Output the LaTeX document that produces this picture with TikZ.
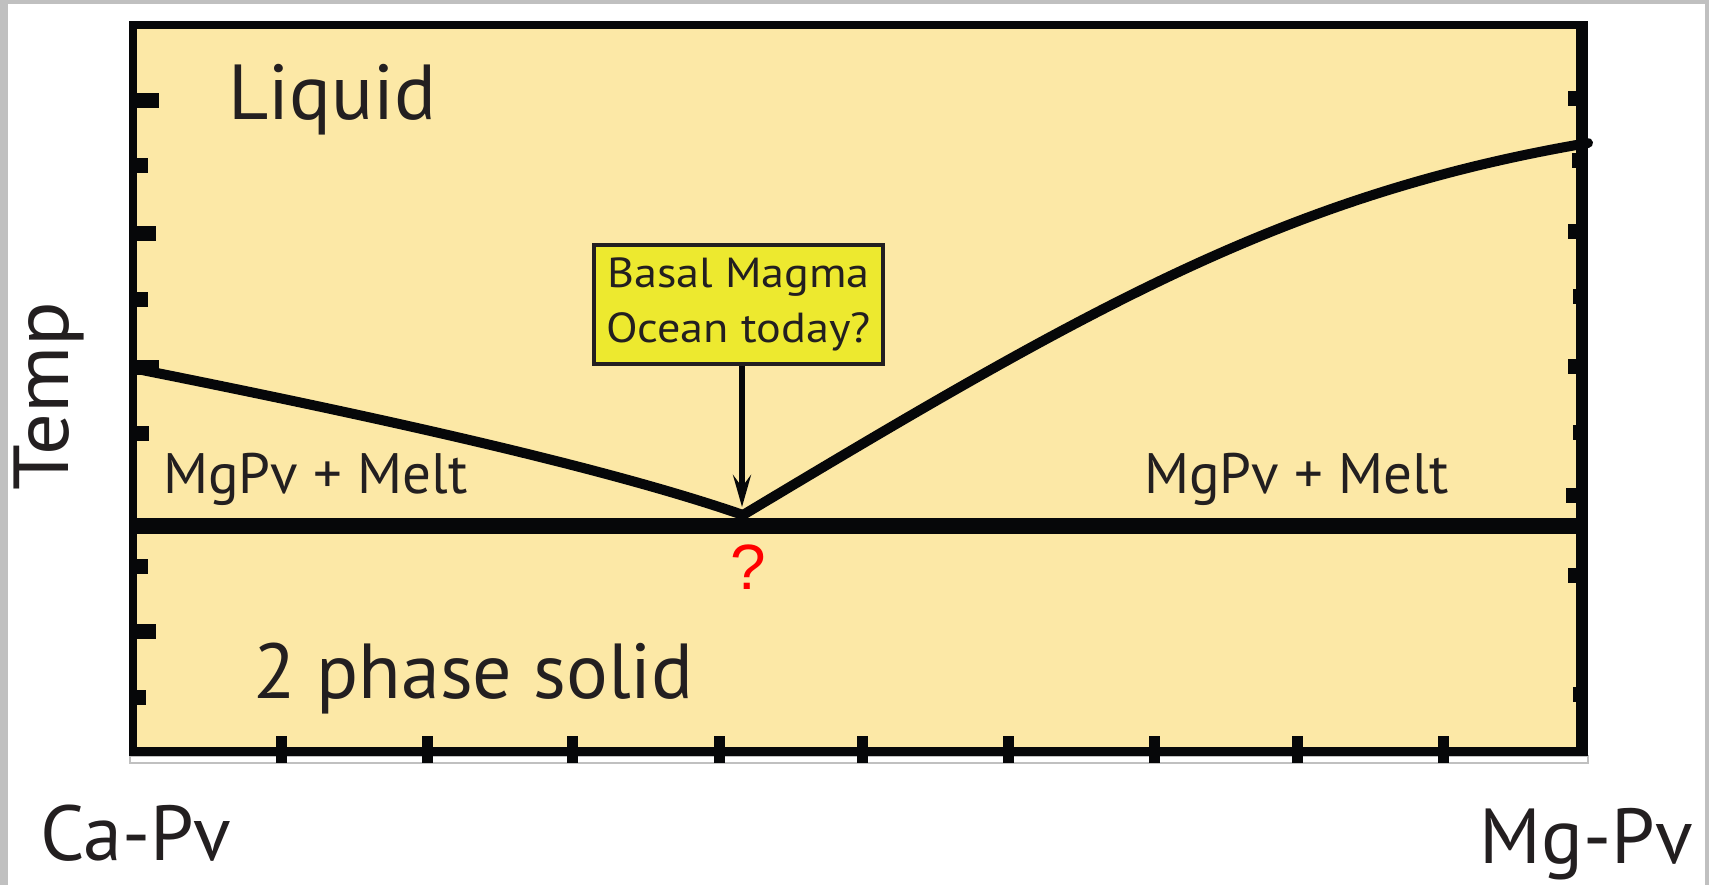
\documentclass[tikz,border=0pt]{standalone}
\usepackage{fontspec}
\setmainfont{PT Sans}
\newfontfamily\arialfont{Liberation Sans}
\newfontfamily\widefont[FakeStretch=1.1]{PT Sans}
\newfontfamily\tempfont[FakeStretch=1.06]{PT Sans}
\usetikzlibrary{arrows.meta}
\definecolor{plotbg}{HTML}{FCE8A6}
\definecolor{boxfill}{HTML}{EDE92F}
\definecolor{ink}{HTML}{231F20}
\definecolor{frame}{HTML}{C0C0C0}
\definecolor{axis}{HTML}{060709}
\begin{document}
\begin{tikzpicture}[x=1pt,y=-1pt,
  big/.style={font=\fontsize{78}{80}\selectfont, text=ink, inner sep=0pt},
  mid/.style={font=\fontsize{57}{60}\selectfont, text=ink, inner sep=0pt},
  tickmark/.style={fill=axis, draw=none},
  curve/.style={draw=axis, line width=10pt, line cap=round, line join=round},
]
\useasboundingbox (0,0) rectangle (1709,885);
\fill[white] (0,0) rectangle (1709,885);
\fill[frame] (0,0) rectangle (8,885);
\fill[frame] (0,0) rectangle (1709,4);
\fill[frame] (1705,0) rectangle (1709,885);
% plot area
\fill[plotbg] (137,29) rectangle (1576,748);
\filldraw[fill=white, draw=frame, line width=1.2pt] (130,756) rectangle (1588,763);
% left ticks
\foreach \y/\x in {101/159, 166/148, 234/156, 300/148, 368/159, 433/149, 566/148, 631/156, 697/146}
  \fill[tickmark] (137,\y-7.5) rectangle (\x,\y+7.5);
% right ticks
\foreach \y/\x in {99/1568, 161/1572, 232/1568, 297/1573, 367/1568, 432/1573, 495/1566, 575/1568, 694/1573}
  \fill[tickmark] (\x,\y-7.5) rectangle (1576,\y+7.5);
% bottom ticks
\foreach \x in {281, 427, 572, 719, 862, 1008, 1154, 1297, 1443}
  \fill[tickmark] (\x-5.5,736) rectangle (\x+5.5,763);
% frame
\fill[axis] (130,21) rectangle (1588,29);
\fill[axis] (129,21) rectangle (137,756);
\fill[axis] (1576,21) rectangle (1588,756);
\fill[axis] (129,747) rectangle (1588,756);
% solidus
\fill[axis] (137,517.5) rectangle (1576,533.5);
% liquidus curves
\coordinate (lstart) at (137,369);
\coordinate (eut) at (743,515);
\coordinate (rend) at (1588,143);
\draw[curve] (lstart) .. controls (337,409) and (593,463) .. (eut);
\draw[curve] (eut) .. controls (1093,305) and (1288,194) .. (rend);
% callout
\node[draw=ink, line width=4pt, fill=boxfill, minimum width=289pt, minimum height=119pt, inner sep=0pt, align=center, font=\widefont\fontsize{42}{55}\selectfont, text=ink] (bmo) at (738.5,304.5) {Basal Magma\\Ocean today?};
\coordinate (tip) at (742,507);
\draw[line width=6pt, draw=axis, -{Stealth[length=32pt,width=18pt,inset=12pt]}] (bmo.south -| tip) -- (tip);
% labels
\node[big, anchor=base west] (liq) at (228,120) {Liquid};
\node[big, anchor=base west] (sol) at (253,698) {2 phase solid};
\node[big, anchor=base west] (capv) at (40,860) {Ca-Pv};
\node[big, anchor=base east] (mgpv) at (1693,863) {Mg-Pv};
\node[big, font=\tempfont\fontsize{78}{80}\selectfont, anchor=base west, rotate=90] (temp) at (68,491) {Temp};
\node[mid, anchor=base west] (ml) at (163,493) {MgPv + Melt};
\node[mid, anchor=base west] (mr) at (1144,493) {MgPv + Melt};
\node[font=\arialfont\fontsize{64}{66}\selectfont, text=red, inner sep=0pt, anchor=base] (q) at (748,589) {?};
\end{tikzpicture}
\end{document}
